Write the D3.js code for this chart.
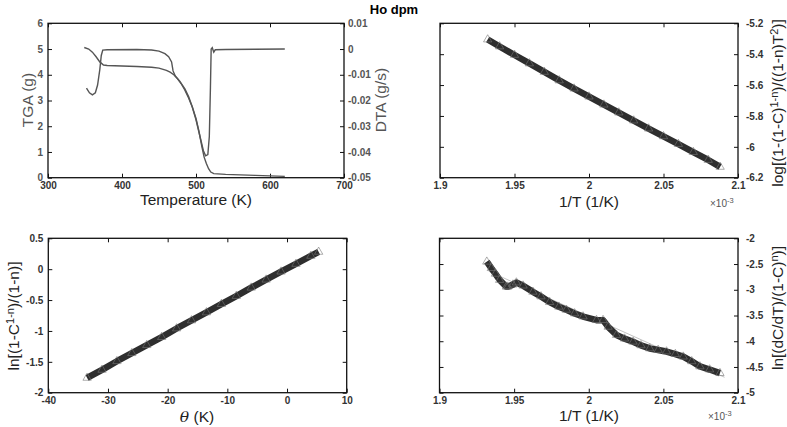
<!DOCTYPE html>
<html>
<head>
<meta charset="utf-8">
<script src="https://cdnjs.cloudflare.com/ajax/libs/d3/7.8.5/d3.min.js"></script>
<style>
  body { margin: 0; background: #fff; }
  svg { font-family: "Liberation Sans", Arial, sans-serif; }
</style>
</head>
<body>
<svg id="chart"></svg>
<script>

    var width = 787,
        height = 427;

    // ---- top left: TGA / DTA vs temperature ----
    var tgaT = [349, 355, 360, 365, 370, 375, 380, 400, 420, 440, 450, 460, 465, 470, 475, 480, 485, 490, 495, 500, 504, 508, 511, 514, 517, 520, 524, 540, 560, 580, 600, 620];
    var tgaMass = [5.06, 5.0, 4.88, 4.7, 4.5, 4.38, 4.36, 4.34, 4.32, 4.29, 4.26, 4.17, 4.1, 4.0, 3.85, 3.65, 3.4, 3.1, 2.75, 2.3, 1.8, 1.2, 0.8, 0.55, 0.35, 0.22, 0.16, 0.13, 0.11, 0.09, 0.07, 0.05];
    var dtaT = [352, 356, 360, 364, 367, 370, 372, 374, 380, 420, 440, 450, 458, 463, 467, 469, 472, 478, 485, 490, 495, 500, 505, 510, 513, 516, 518, 519.5, 520.5, 522, 524, 526, 540, 580, 620];
    var dtaRate = [-0.0152, -0.017, -0.0178, -0.017, -0.014, -0.008, -0.0025, -0.0004, -0.0003, -0.0002, -0.0004, -0.0008, -0.0018, -0.003, -0.005, -0.0085, -0.0105, -0.0125, -0.0155, -0.0185, -0.0225, -0.0275, -0.0335, -0.0395, -0.0415, -0.041, -0.034, -0.015, 0, 0.0005, -0.0012, -0.0003, -0.0002, -0.0001, 0];
    var tempTicks = [300, 400, 500, 600, 700];
    var tgaTicks = [0, 1, 2, 3, 4, 5, 6];
    var dtaTicks = [-0.05, -0.04, -0.03, -0.02, -0.01, 0, 0.01];

    // ---- top right: log[...] vs 1/T ----
    var invT1 = [1.932, 1.94, 1.95, 1.96, 1.97, 1.98, 1.99, 2.0, 2.01, 2.02, 2.03, 2.04, 2.05, 2.06, 2.07, 2.08, 2.088];
    var logVal = [-5.305, -5.35, -5.405, -5.46, -5.515, -5.57, -5.623, -5.675, -5.727, -5.778, -5.83, -5.882, -5.932, -5.982, -6.034, -6.085, -6.13];
    var invTTicks = [1.9, 1.95, 2.0, 2.05, 2.1];
    var logTicks = [-6.2, -6.0, -5.8, -5.6, -5.4, -5.2];

    // ---- bottom left: ln[...] vs theta ----
    var theta = [-33.5, -31, -28.5, -26, -23.5, -21, -18.5, -16, -13.5, -11, -8.5, -6, -3.5, -1, 1.5, 4, 5.3];
    var lnTheta = [-1.76, -1.63, -1.49, -1.36, -1.23, -1.1, -0.96, -0.83, -0.7, -0.565, -0.435, -0.3, -0.17, -0.04, 0.085, 0.215, 0.28];
    var thetaTicks = [-40, -30, -20, -10, 0, 10];
    var lnThetaTicks = [-2, -1.5, -1, -0.5, 0, 0.5];

    // ---- bottom right: ln[(dC/dT)/(1-C)^n] vs 1/T ----
    var invT2 = [1.9317, 1.9347, 1.9375, 1.9403, 1.9448, 1.9458, 1.9492, 1.9515, 1.956, 1.9626, 1.968, 1.9738, 1.98, 1.985, 1.9905, 1.9962, 2.0052, 2.0096, 2.013, 2.0186, 2.024, 2.0297, 2.035, 2.0409, 2.0465, 2.0521, 2.058, 2.0633, 2.069, 2.0745, 2.081, 2.0879];
    var lnRate = [-2.455, -2.58, -2.69, -2.81, -2.94, -2.94, -2.9, -2.86, -2.92, -3.04, -3.13, -3.24, -3.33, -3.39, -3.46, -3.52, -3.59, -3.59, -3.72, -3.88, -3.95, -4.01, -4.08, -4.14, -4.17, -4.2, -4.25, -4.3, -4.39, -4.49, -4.55, -4.62];
    var fitX = [1.933, 2.091];
    var fitY = [-2.64, -4.7];
    var lnRateTicks = [-5, -4.5, -4, -3.5, -3, -2.5, -2];

    var svg = d3.select("#chart")
        .attr("width", width)
        .attr("height", height);

    function fmt(d) { return String(+d.toFixed(3)); }

    // draws box, inward ticks on all four sides, labels on bottom and chosen side
    function panel(box, xDom, yDom, xTicks, yTicks, ySide, noRight) {
        var x = d3.scaleLinear().domain(xDom).range([box.x0, box.x1]);
        var y = d3.scaleLinear().domain(yDom).range([box.y1, box.y0]);
        var g = svg.append("g");

        g.append("g").attr("transform", "translate(0," + box.y1 + ")")
            .call(d3.axisBottom(x).tickValues(xTicks).tickSizeInner(-4).tickSizeOuter(0).tickPadding(4.5).tickFormat(fmt));
        g.append("g").attr("transform", "translate(0," + box.y0 + ")")
            .call(d3.axisTop(x).tickValues(xTicks).tickSizeInner(-4).tickSizeOuter(0).tickFormat(""));

        var yl = ySide == "left" ? fmt : "";
        var yr = ySide == "right" ? fmt : "";
        g.append("g").attr("class", "yleft").attr("transform", "translate(" + box.x0 + ",0)")
            .call(d3.axisLeft(y).tickValues(yTicks).tickSizeInner(-4).tickSizeOuter(0).tickPadding(5).tickFormat(yl));
        if (!noRight) {
            g.append("g").attr("class", "yright").attr("transform", "translate(" + box.x1 + ",0)")
                .call(d3.axisRight(y).tickValues(yTicks).tickSizeInner(-4).tickSizeOuter(0).tickPadding(ySide == "right" ? 8 : 4).tickFormat(yr));
        }

        g.selectAll(".domain").remove();
        g.selectAll(".tick line").attr("stroke", "#111").attr("stroke-width", 1);
        g.selectAll(".tick text").attr("fill", "#333").attr("font-size", 10).attr("font-weight", "bold")
            .attr("font-family", "Liberation Sans, Arial, sans-serif");

        g.append("rect")
            .attr("x", box.x0).attr("y", box.y0)
            .attr("width", box.x1 - box.x0).attr("height", box.y1 - box.y0)
            .attr("fill", "none").attr("stroke", "#111").attr("stroke-width", 1.3);

        return { x: x, y: y, g: g };
    }

    // band of triangle markers
    function band(p, xs, ys) {
        var pts = xs.map(function(d, i) { return [p.x(d), p.y(ys[i])]; });
        p.g.append("path")
            .attr("d", d3.line()(pts))
            .attr("fill", "none")
            .attr("stroke", "#2e2e2e")
            .attr("stroke-width", 6.5)
            .attr("stroke-linejoin", "round");
        p.g.selectAll(".mk").data(pts).enter().append("path")
            .attr("transform", function(d) { return "translate(" + d[0] + "," + d[1] + ")"; })
            .attr("d", d3.symbol(d3.symbolTriangle, 30))
            .attr("fill", "none")
            .attr("stroke", "#777")
            .attr("stroke-width", 0.6);
    }

    // title
    svg.append("text")
        .attr("x", 394).attr("y", 14)
        .attr("text-anchor", "middle")
        .attr("font-size", 13).attr("font-weight", "bold")
        .text("Ho dpm");

    // ---- top left ----
    var tl = panel({ x0: 48, x1: 344, y0: 23.3, y1: 177.7 }, [300, 700], [0, 6], tempTicks, tgaTicks, "left", true);
    var yDta = d3.scaleLinear().domain([-0.05, 0.01]).range([177.7, 23.3]);
    var rAx = tl.g.append("g").attr("transform", "translate(344,0)")
        .call(d3.axisRight(yDta).tickValues(dtaTicks).tickSizeInner(-4).tickSizeOuter(0).tickPadding(4).tickFormat(fmt));
    rAx.select(".domain").remove();
    rAx.selectAll(".tick line").attr("stroke", "#111");
    rAx.selectAll(".tick text").attr("fill", "#555").attr("font-size", 10).attr("font-weight", "bold");
    tl.g.selectAll(".yleft .tick text").attr("fill", "#555");

    tl.g.append("path")
        .attr("d", d3.line().x(function(d, i) { return tl.x(d); }).y(function(d, i) { return tl.y(tgaMass[i]); })(tgaT))
        .attr("fill", "none").attr("stroke", "#555").attr("stroke-width", 1.4);
    tl.g.append("path")
        .attr("d", d3.line().x(function(d) { return tl.x(d); }).y(function(d, i) { return yDta(dtaRate[i]); })(dtaT))
        .attr("fill", "none").attr("stroke", "#555").attr("stroke-width", 1.4);

    svg.append("text").attr("x", 196).attr("y", 205).attr("text-anchor", "middle")
        .attr("font-size", 15.5).attr("fill", "#222").text("Temperature (K)");
    svg.append("text").attr("transform", "translate(33,100) rotate(-90)").attr("text-anchor", "middle")
        .attr("font-size", 15.5).attr("fill", "#555").text("TGA (g)");
    svg.append("text").attr("transform", "translate(386,100) rotate(-90)").attr("text-anchor", "middle")
        .attr("font-size", 15.5).attr("fill", "#555").text("DTA (g/s)");

    // ---- top right ----
    var tr = panel({ x0: 440, x1: 738, y0: 23.3, y1: 177.7 }, [1.9, 2.1], [-6.2, -5.2], invTTicks, logTicks, "right");
    band(tr, invT1, logVal);
    svg.append("text").attr("x", 589).attr("y", 207).attr("text-anchor", "middle")
        .attr("font-size", 15.5).attr("fill", "#222").text("1/T (1/K)");
    var e1 = svg.append("text").attr("x", 710).attr("y", 207).attr("font-size", 10).attr("fill", "#555");
    e1.append("tspan").text("\u00d710");
    e1.append("tspan").attr("dy", -4).attr("font-size", 7.5).text("-3");
    var l1 = svg.append("text").attr("transform", "translate(783,103) rotate(-90)").attr("text-anchor", "middle")
        .attr("font-size", 15.5).attr("fill", "#222");
    l1.append("tspan").text("log[(1-(1-C)");
    l1.append("tspan").attr("dy", -5).attr("font-size", 11).text("1-n");
    l1.append("tspan").attr("dy", 5).text(")/((1-n)T");
    l1.append("tspan").attr("dy", -5).attr("font-size", 11).text("2");
    l1.append("tspan").attr("dy", 5).text(")]");

    // ---- bottom left ----
    var bl = panel({ x0: 48.3, x1: 346.7, y0: 238.3, y1: 392.7 }, [-40, 10], [-2, 0.5], thetaTicks, lnThetaTicks, "left");
    band(bl, theta, lnTheta);
    var tx = svg.append("text").attr("x", 197).attr("y", 422).attr("text-anchor", "middle")
        .attr("font-size", 15.5).attr("fill", "#222");
    tx.append("tspan").attr("font-family", "DejaVu Serif, serif").attr("font-style", "italic").text("\u03b8");
    tx.append("tspan").text(" (K)");
    var l2 = svg.append("text").attr("transform", "translate(19,316) rotate(-90)").attr("text-anchor", "middle")
        .attr("font-size", 15.5).attr("fill", "#222");
    l2.append("tspan").text("ln[(1-C");
    l2.append("tspan").attr("dy", -5).attr("font-size", 11).text("1-n");
    l2.append("tspan").attr("dy", 5).text(")/(1-n)]");

    // ---- bottom right ----
    var br = panel({ x0: 439.5, x1: 738, y0: 238.3, y1: 392.7 }, [1.9, 2.1], [-5, -2], invTTicks, lnRateTicks, "right");
    br.g.append("path")
        .attr("d", d3.line()(fitX.map(function(d, i) { return [br.x(d), br.y(fitY[i])]; })))
        .attr("stroke", "#999").attr("stroke-width", 0.6);
    band(br, invT2, lnRate);
    svg.append("text").attr("x", 589).attr("y", 421).attr("text-anchor", "middle")
        .attr("font-size", 15.5).attr("fill", "#222").text("1/T (1/K)");
    var e2 = svg.append("text").attr("x", 708).attr("y", 420).attr("font-size", 10).attr("fill", "#555");
    e2.append("tspan").text("\u00d710");
    e2.append("tspan").attr("dy", -4).attr("font-size", 7.5).text("-3");
    var l3 = svg.append("text").attr("transform", "translate(783,308) rotate(-90)").attr("text-anchor", "middle")
        .attr("font-size", 15.5).attr("fill", "#222");
    l3.append("tspan").text("ln[(dC/dT)/(1-C)");
    l3.append("tspan").attr("dy", -5).attr("font-size", 11).text("n");
    l3.append("tspan").attr("dy", 5).text(")]");

</script>
</body>
</html>
